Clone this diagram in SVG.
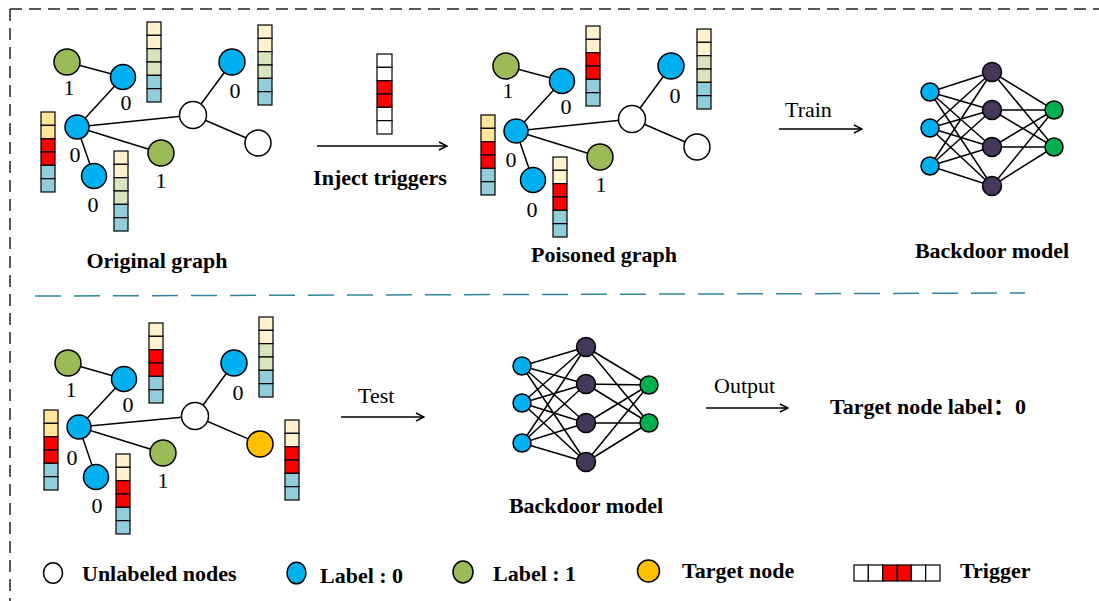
<svg xmlns="http://www.w3.org/2000/svg" xmlns:xlink="http://www.w3.org/1999/xlink" width="1099" height="601" viewBox="0 0 1099 601">
<style>
.t{font-family:"Liberation Serif","Times New Roman","Noto Sans CJK SC",serif;font-size:22px;fill:#000}
.b{font-weight:bold}
.m{text-anchor:middle}
.e{stroke:#000;stroke-width:1.5;fill:none}
.n{stroke:#000;stroke-width:1.5}
.blue{fill:#00B0F0}
.grn{fill:#9BBB59}
.wht{fill:#fff}
.org{fill:#FFC000}
.pur{fill:#44375A}
.out{fill:#00B050}
.c{stroke:#000;stroke-width:1.2}
.cr{fill:#FFF2CC}.yl{fill:#FFE699}.lg{fill:#D7E4BD}.lb{fill:#92CDDC}.rd{fill:#FF0000}.wc{fill:#fff}
.arrow{stroke:#000;stroke-width:1.6;fill:none;marker-end:url(#arr)}
</style>
<defs>
<marker id="arr" viewBox="0 0 10 10" refX="9" refY="5" markerWidth="10" markerHeight="10" markerUnits="userSpaceOnUse" orient="auto">
<path d="M1,1 L9,5 L1,9" fill="none" stroke="#000" stroke-width="1.5"/>
</marker>
<g id="bG">
<rect class="c cr" x="0" y="0" width="14" height="13.33"/><rect class="c cr" x="0" y="13.33" width="14" height="13.33"/>
<rect class="c lg" x="0" y="26.67" width="14" height="13.33"/><rect class="c lg" x="0" y="40" width="14" height="13.33"/>
<rect class="c lb" x="0" y="53.33" width="14" height="13.33"/><rect class="c lb" x="0" y="66.67" width="14" height="13.33"/>
</g>
<g id="bY">
<rect class="c yl" x="0" y="0" width="14" height="13.33"/><rect class="c yl" x="0" y="13.33" width="14" height="13.33"/>
<rect class="c rd" x="0" y="26.67" width="14" height="13.33"/><rect class="c rd" x="0" y="40" width="14" height="13.33"/>
<rect class="c lb" x="0" y="53.33" width="14" height="13.33"/><rect class="c lb" x="0" y="66.67" width="14" height="13.33"/>
</g>
<g id="bR">
<rect class="c cr" x="0" y="0" width="14" height="13.33"/><rect class="c cr" x="0" y="13.33" width="14" height="13.33"/>
<rect class="c rd" x="0" y="26.67" width="14" height="13.33"/><rect class="c rd" x="0" y="40" width="14" height="13.33"/>
<rect class="c lb" x="0" y="53.33" width="14" height="13.33"/><rect class="c lb" x="0" y="66.67" width="14" height="13.33"/>
</g>
<g id="bT">
<rect class="c wc" x="0" y="0" width="15" height="13.33"/><rect class="c wc" x="0" y="13.33" width="15" height="13.33"/>
<rect class="c rd" x="0" y="26.67" width="15" height="13.33"/><rect class="c rd" x="0" y="40" width="15" height="13.33"/>
<rect class="c wc" x="0" y="53.33" width="15" height="13.33"/><rect class="c wc" x="0" y="66.67" width="15" height="13.33"/>
</g>
</defs>
<rect width="1099" height="601" fill="#fff"/>

<!-- frame and divider -->
<g id="frame" fill="none">
<line x1="10" y1="9" x2="1099" y2="9" stroke="#222" stroke-width="1.5" stroke-dasharray="12 7"/>
<line x1="10" y1="9" x2="10" y2="601" stroke="#222" stroke-width="1.5" stroke-dasharray="12 7"/>
<line x1="35" y1="296" x2="1025" y2="293" stroke="#31849B" stroke-width="1.5" stroke-dasharray="26 13"/>
</g>

<!-- connectors -->
<g id="connectors">
<path class="e" d="M67,62L123,77M123,77L77,127M77,127L193,115M77,127L161,153M77,127L94,176M193,115L232,62M193,115L258,143"/>
<path class="e" d="M506,66L562,81M562,81L516,131M516,131L632,119M516,131L600,157M516,131L533,180M632,119L671,66M632,119L697,147"/>
<path class="e" d="M68,363L124,379M124,379L79,427M79,427L195,416M79,427L163,453M79,427L96,477M195,416L234,363M195,416L260,444"/>
<path class="e" d="M930,92L992,72M930,92L992,110M930,92L992,147M930,92L992,186M930,128L992,72M930,128L992,110M930,128L992,147M930,128L992,186M930,166L992,72M930,166L992,110M930,166L992,147M930,166L992,186M992,72L1054,110M992,72L1054,147M992,110L1054,110M992,110L1054,147M992,147L1054,110M992,147L1054,147M992,186L1054,110M992,186L1054,147"/>
<path class="e" d="M522,366L586,347M522,366L586,384M522,366L586,423M522,366L586,462M522,403L586,347M522,403L586,384M522,403L586,423M522,403L586,462M522,443L586,347M522,443L586,384M522,443L586,423M522,443L586,462M586,347L649,385M586,347L649,423M586,384L649,385M586,384L649,423M586,423L649,385M586,423L649,423M586,462L649,385M586,462L649,423"/>
<line class="arrow" x1="317" y1="146" x2="447" y2="146"/>
<line class="arrow" x1="779" y1="129" x2="862" y2="129"/>
<line class="arrow" x1="341" y1="417" x2="424" y2="417"/>
<line class="arrow" x1="706" y1="408" x2="788" y2="408"/>
</g>

<!-- original graph -->
<g id="original-graph">
<g id="o-n1"><circle class="n grn" cx="67" cy="62" r="13"/></g>
<g id="o-n2"><circle class="n blue" cx="123" cy="77" r="12.5"/></g>
<g id="o-n3"><circle class="n blue" cx="77" cy="127" r="12"/></g>
<g id="o-n4"><circle class="n blue" cx="94" cy="176" r="12.5"/></g>
<g id="o-n5"><circle class="n grn" cx="161" cy="153" r="13"/></g>
<g id="o-n6"><circle class="n wht" cx="193" cy="115" r="13.5"/></g>
<g id="o-n7"><circle class="n wht" cx="258" cy="143" r="13"/></g>
<g id="o-n8"><circle class="n blue" cx="232" cy="62" r="13"/></g>
<use href="#bG" x="147" y="22"/>
<use href="#bG" x="258" y="25"/>
<use href="#bY" x="41" y="112"/>
<use href="#bG" x="114" y="151"/>
<text class="t m" x="69" y="95">1</text>
<text class="t m" x="126" y="110">0</text>
<text class="t m" x="235" y="98">0</text>
<text class="t m" x="75" y="162">0</text>
<text class="t m" x="93" y="212">0</text>
<text class="t m" x="161" y="188">1</text>
<text class="t b m" x="157" y="268">Original graph</text>
</g>

<!-- trigger injection -->
<g id="inject">
<use href="#bT" x="377" y="54"/>
<text class="t b m" x="380" y="185">Inject triggers</text>
</g>

<!-- poisoned graph -->
<g id="poisoned-graph">
<g id="p-n1"><circle class="n grn" cx="506" cy="66" r="13"/></g>
<g id="p-n2"><circle class="n blue" cx="562" cy="81" r="12.5"/></g>
<g id="p-n3"><circle class="n blue" cx="516" cy="131" r="12"/></g>
<g id="p-n4"><circle class="n blue" cx="533" cy="180" r="12.5"/></g>
<g id="p-n5"><circle class="n grn" cx="600" cy="157" r="13"/></g>
<g id="p-n6"><circle class="n wht" cx="632" cy="119" r="13.5"/></g>
<g id="p-n7"><circle class="n wht" cx="697" cy="147" r="13"/></g>
<g id="p-n8"><circle class="n blue" cx="671" cy="66" r="13"/></g>
<use href="#bR" x="586" y="26"/>
<use href="#bG" x="697" y="29"/>
<use href="#bY" x="481" y="115"/>
<use href="#bR" x="553" y="157"/>
<text class="t m" x="508" y="98">1</text>
<text class="t m" x="566" y="114">0</text>
<text class="t m" x="675" y="103">0</text>
<text class="t m" x="511" y="167">0</text>
<text class="t m" x="532" y="217">0</text>
<text class="t m" x="601" y="192">1</text>
<text class="t b m" x="604" y="262">Poisoned graph</text>
</g>

<!-- top model -->
<g id="model-top">
<text class="t" x="785" y="117">Train</text>
<g id="mt-i1"><circle class="n blue" cx="930" cy="92" r="9"/></g>
<g id="mt-i2"><circle class="n blue" cx="930" cy="128" r="9"/></g>
<g id="mt-i3"><circle class="n blue" cx="930" cy="166" r="9"/></g>
<g id="mt-h1"><circle class="n pur" cx="992" cy="72" r="9.5"/></g>
<g id="mt-h2"><circle class="n pur" cx="992" cy="110" r="9.5"/></g>
<g id="mt-h3"><circle class="n pur" cx="992" cy="147" r="9.5"/></g>
<g id="mt-h4"><circle class="n pur" cx="992" cy="186" r="9.5"/></g>
<g id="mt-o1"><circle class="n out" cx="1054" cy="110" r="9"/></g>
<g id="mt-o2"><circle class="n out" cx="1054" cy="147" r="9"/></g>
<text class="t b m" x="992" y="258">Backdoor model</text>
</g>

<!-- test graph -->
<g id="test-graph">
<g id="t-n1"><circle class="n grn" cx="68" cy="363" r="13"/></g>
<g id="t-n2"><circle class="n blue" cx="124" cy="379" r="12.5"/></g>
<g id="t-n3"><circle class="n blue" cx="79" cy="427" r="12"/></g>
<g id="t-n4"><circle class="n blue" cx="96" cy="477" r="12.5"/></g>
<g id="t-n5"><circle class="n grn" cx="163" cy="453" r="13"/></g>
<g id="t-n6"><circle class="n wht" cx="195" cy="416" r="13.5"/></g>
<g id="t-n7"><circle class="n org" cx="260" cy="444" r="13"/></g>
<g id="t-n8"><circle class="n blue" cx="234" cy="363" r="13"/></g>
<use href="#bR" x="149" y="323"/>
<use href="#bG" x="259" y="317"/>
<use href="#bY" x="44" y="410"/>
<use href="#bR" x="116" y="454"/>
<use href="#bR" x="285" y="420"/>
<text class="t m" x="71" y="397">1</text>
<text class="t m" x="128" y="412">0</text>
<text class="t m" x="238" y="400">0</text>
<text class="t m" x="72" y="465">0</text>
<text class="t m" x="97" y="513">0</text>
<text class="t m" x="163" y="488">1</text>
</g>

<!-- bottom model -->
<g id="model-bottom">
<text class="t" x="358" y="403">Test</text>
<g id="mb-i1"><circle class="n blue" cx="522" cy="366" r="9"/></g>
<g id="mb-i2"><circle class="n blue" cx="522" cy="403" r="9"/></g>
<g id="mb-i3"><circle class="n blue" cx="522" cy="443" r="9"/></g>
<g id="mb-h1"><circle class="n pur" cx="586" cy="347" r="9.5"/></g>
<g id="mb-h2"><circle class="n pur" cx="586" cy="384" r="9.5"/></g>
<g id="mb-h3"><circle class="n pur" cx="586" cy="423" r="9.5"/></g>
<g id="mb-h4"><circle class="n pur" cx="586" cy="462" r="9.5"/></g>
<g id="mb-o1"><circle class="n out" cx="649" cy="385" r="9"/></g>
<g id="mb-o2"><circle class="n out" cx="649" cy="423" r="9"/></g>
<text class="t b m" x="586" y="513">Backdoor model</text>
</g>

<g id="output">
<text class="t" x="714" y="393">Output</text>
<text class="t b" x="830" y="414">Target node label：0</text>
</g>

<!-- legend -->
<g id="legend">
<ellipse class="n wht" cx="53" cy="573" rx="9.5" ry="10.3"/>
<text class="t b" x="82" y="581">Unlabeled nodes</text>
<ellipse class="n blue" cx="296.5" cy="573" rx="9.5" ry="10.8"/>
<text class="t b" x="320" y="583">Label : 0</text>
<ellipse class="n grn" cx="463" cy="572" rx="10" ry="11"/>
<text class="t b" x="493" y="581">Label : 1</text>
<ellipse class="n org" cx="648.5" cy="571" rx="11" ry="11"/>
<text class="t b" x="682" y="578">Target node</text>
<g id="legend-trigger">
<rect class="c wc" x="854" y="565" width="14.33" height="16"/>
<rect class="c wc" x="868.33" y="565" width="14.33" height="16"/>
<rect class="c rd" x="882.67" y="565" width="14.33" height="16"/>
<rect class="c rd" x="897" y="565" width="14.33" height="16"/>
<rect class="c wc" x="911.33" y="565" width="14.33" height="16"/>
<rect class="c wc" x="925.67" y="565" width="14.33" height="16"/>
</g>
<text class="t b" x="960" y="578">Trigger</text>
</g>
</svg>
